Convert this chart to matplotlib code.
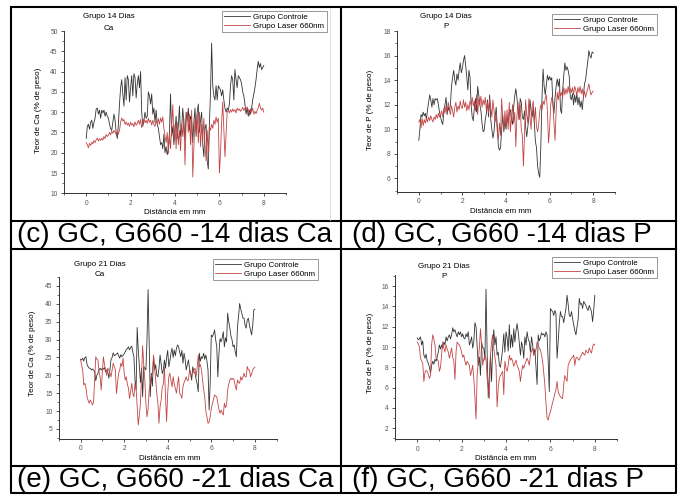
import numpy as np
import matplotlib.pyplot as plt
from matplotlib.ticker import MultipleLocator

plt.rcParams['font.family'] = ['Liberation Sans', 'DejaVu Sans']

W, H = 682, 495

# distancia (mm), mesma grade para todas as curvas
dist_mm = np.linspace(0, 8, 161)

# 14 dias - Ca
ca14_gc = [23.5, 26.5, 27.0, 25.8, 27.5, 28.0, 26.0, 27.5, 28.5, 30.8, 31.0, 29.5, 30.5, 28.5, 30.5, 29.8, 30.5, 29.0, 30.0, 29.0,
           28.5, 27.0, 26.0, 25.5, 27.5, 29.5, 28.0, 25.0, 23.5, 27.0, 32.0, 36.0, 38.0, 34.5, 31.5, 38.5, 33.0, 39.0, 38.0, 32.5,
           36.0, 39.0, 34.0, 39.5, 38.5, 33.5, 37.0, 39.0, 36.0, 40.0, 30.0, 26.5, 28.0, 30.0, 28.5, 29.0, 35.0, 34.0, 32.0, 34.5,
           29.5, 31.0, 27.5, 30.5, 27.0, 26.0, 24.0, 22.0, 22.5, 21.0, 24.5, 20.0, 21.5, 19.5, 21.0, 25.0, 34.5, 24.0, 26.5, 22.0,
           25.5, 29.0, 23.5, 26.5, 31.5, 24.0, 26.0, 31.0, 27.0, 23.0, 30.0, 28.0, 31.0, 25.5, 29.0, 28.0, 22.5, 27.5, 31.0, 24.0,
           30.0, 32.0, 25.0, 28.0, 30.0, 22.0, 19.0, 26.0, 27.0, 18.0, 16.0, 27.0, 35.0, 47.0, 36.5, 34.0, 33.0, 36.5, 33.0, 36.5,
           36.0, 35.5, 34.0, 35.5, 33.0, 31.0, 30.0, 31.0, 30.5, 32.0, 36.5, 39.0, 38.0, 33.0, 40.5, 38.0, 36.0, 39.0, 38.5, 38.0,
           37.0, 35.0, 34.0, 32.0, 29.5, 31.0, 29.0, 30.5, 29.5, 31.0, 33.0, 34.5, 36.0, 38.0, 40.5, 42.5, 41.0, 42.0, 40.5, 41.0,
           41.5]
ca14_gl = [22.5, 22.0, 21.2, 22.3, 21.8, 22.6, 22.2, 23.0, 22.5, 23.2, 23.6, 22.9, 23.4, 23.0, 23.6, 23.1, 24.0, 23.5, 24.5, 24.0,
           24.3, 25.0, 24.4, 25.3, 24.8, 25.5, 25.0, 24.5, 25.2, 24.6, 25.5, 27.5, 28.6, 27.8, 28.2, 27.0, 27.6, 26.8, 27.3, 26.5,
           27.5, 26.8, 27.2, 26.4, 27.6, 26.8, 27.2, 28.0, 27.0, 28.2, 26.2, 27.5, 28.3, 27.4, 28.0, 27.2, 28.5, 27.5, 28.0, 26.8,
           28.0, 27.0, 26.5, 27.8, 27.2, 28.4, 27.0, 28.6, 27.5, 28.8, 26.0, 24.0, 22.5, 25.0, 19.8, 24.5, 21.0, 26.5, 31.8, 23.5,
           27.0, 21.0, 27.5, 22.0, 25.5, 20.5, 27.0, 24.0, 28.5, 17.0, 27.5, 30.0, 25.0, 29.5, 22.0, 30.5, 14.0, 21.0, 28.5, 25.0,
           29.5, 22.5, 30.0, 21.5, 27.0, 23.0, 28.5, 22.0, 18.0, 25.5, 20.0, 26.5, 25.5, 27.0, 26.0, 28.0, 27.0, 28.8, 27.5, 28.5,
           15.0, 20.0, 27.5, 32.5, 26.0, 19.0, 24.5, 30.0, 30.5, 29.8, 30.6, 30.0, 30.8, 30.2, 30.6, 29.8, 31.0, 30.4, 30.8, 30.2,
           30.6, 31.2, 30.4, 31.0, 30.5, 31.3, 30.6, 29.2, 30.8, 30.0, 31.0, 29.5, 30.2, 29.6, 30.5, 31.0, 32.2, 31.0, 30.5, 31.0,
           30.0]

# 14 dias - P
p14_gc = [9.1, 10.0, 11.2, 11.0, 11.4, 11.1, 11.3, 10.8, 11.6, 12.2, 12.8, 12.4, 11.8, 12.5, 12.0, 12.5, 12.4, 12.5, 12.0, 11.4,
          11.0, 10.6, 10.4, 11.5, 12.0, 12.6, 11.2, 11.8, 11.5, 12.0, 13.5, 14.2, 14.8, 14.0, 13.6, 14.5, 14.0, 14.8, 15.4, 14.6,
          15.0, 15.6, 16.0, 15.2, 14.3, 13.2, 14.8, 14.2, 12.0, 11.0, 10.7, 11.8, 12.5, 11.4, 13.5, 12.8, 12.0, 11.5, 10.5, 9.8,
          9.9, 10.8, 11.3, 12.4, 11.0, 12.8, 10.8, 10.0, 9.3, 9.8, 11.0, 11.8, 10.2, 8.6, 8.3, 8.5, 10.0, 11.2, 9.8, 10.8,
          10.0, 11.0, 10.5, 11.4, 11.6, 10.8, 10.4, 11.8, 12.7, 13.3, 12.6, 11.6, 10.8, 12.5, 12.2, 11.0, 10.8, 11.5, 10.2, 9.4,
          10.2, 11.0, 12.4, 11.5, 11.0, 11.8, 10.5, 9.0, 8.5, 7.0, 6.4, 6.1, 8.8, 12.5, 14.9, 13.5, 12.8, 13.6, 14.4, 14.0,
          14.3, 14.0, 14.2, 12.1, 11.3, 12.6, 13.5, 14.1, 13.5, 14.1, 11.6, 11.3, 13.2, 14.4, 15.4, 14.8, 15.1, 14.8, 14.3, 12.6,
          12.4, 12.9, 12.0, 12.8, 12.2, 12.9, 12.0, 12.6, 11.8, 12.3, 11.6, 12.6, 13.7, 14.0, 14.8, 15.5, 16.4, 16.0, 15.8, 16.3,
          16.2]
p14_gl = [10.6, 10.8, 10.1, 10.9, 10.3, 10.8, 10.5, 10.9, 10.6, 11.0, 10.7, 11.1, 10.8, 10.6, 11.0, 10.8, 11.2, 10.9, 11.3, 11.0,
          11.2, 11.5, 11.0, 11.7, 11.3, 11.9, 11.4, 12.2, 11.6, 11.2, 11.9, 11.5, 11.0, 11.8, 12.2, 11.4, 11.9, 11.6, 12.3, 11.8,
          11.7, 12.4, 11.8, 12.2, 11.5, 12.0, 11.6, 12.3, 12.0, 12.6, 11.9, 12.3, 11.5, 12.8, 11.2, 12.5, 12.0, 12.7, 11.8, 12.4,
          12.0, 12.6, 11.5, 12.2, 11.3, 12.5, 11.8, 11.0, 12.4, 11.5, 10.6, 11.2, 9.8, 9.2, 10.5, 9.5, 12.5, 11.0, 10.0, 11.5,
          10.2, 11.6, 10.0, 12.2, 9.8, 11.0, 12.0, 10.5, 11.4, 8.6, 11.0, 12.2, 10.8, 12.0, 10.0, 9.5, 7.0, 9.8, 12.4, 11.2,
          10.5, 12.5, 11.0, 10.0, 11.8, 12.3, 10.5, 11.8, 10.2, 9.8, 10.4, 11.5, 12.0, 11.6, 12.3, 12.0, 12.5, 12.8, 11.5, 8.9,
          10.0, 12.0, 12.6, 12.2, 10.5, 9.1, 11.5, 13.0, 12.4, 13.2, 12.7, 13.0, 12.6, 13.4, 12.8, 13.3, 12.9, 13.5, 13.0, 13.3,
          13.0, 13.4, 12.8, 13.5, 13.2, 12.8, 13.4, 13.0, 13.5, 12.9, 13.3, 12.7, 13.1, 12.6, 13.0, 13.3, 13.7, 13.2, 12.8, 13.0,
          13.1]

# 21 dias - Ca
ca21_gc = [24.5, 24.3, 24.8, 24.0, 25.0, 25.2, 23.0, 22.4, 22.0, 22.0, 21.5, 21.8, 21.5, 21.0, 18.5, 20.0, 20.6, 21.5, 22.0, 21.5,
           22.0, 21.7, 22.2, 21.0, 21.5, 21.0, 19.2, 21.5, 24.4, 25.0, 26.3, 25.5, 25.7, 26.0, 26.3, 25.5, 24.8, 25.8, 25.2, 25.6,
           26.0, 26.6, 27.2, 27.5, 28.0, 27.1, 27.8, 28.2, 26.5, 25.2, 18.7, 15.9, 33.4, 27.1, 22.4, 18.0, 22.0, 14.0, 22.4, 22.0,
           21.5, 30.0, 44.0, 29.0, 14.0, 20.6, 17.0, 25.3, 21.5, 23.0, 20.0, 19.6, 22.0, 25.7, 23.0, 20.5, 21.5, 24.3, 22.0, 25.0,
           27.0, 22.4, 24.0, 26.2, 27.6, 25.0, 27.1, 25.5, 27.5, 28.5, 28.0, 26.5, 25.2, 27.0, 23.4, 26.2, 24.5, 21.5, 23.0, 24.3,
           22.0, 20.5, 18.7, 22.4, 21.0, 20.6, 19.0, 17.7, 15.4, 26.2, 24.0, 25.2, 24.8, 26.2, 24.5, 25.7, 24.0, 21.5, 10.3, 18.0,
           31.3, 30.8, 31.5, 32.7, 30.0, 28.0, 19.6, 26.0, 30.3, 29.4, 30.5, 32.2, 28.0, 30.5, 29.4, 37.4, 35.0, 33.2, 31.0, 30.0,
           28.0, 28.5, 26.5, 25.2, 33.6, 36.5, 40.1, 38.5, 37.4, 36.0, 36.0, 34.0, 33.2, 35.5, 36.0, 34.0, 32.7, 31.3, 34.0, 38.3,
           38.5]
ca21_gl = [24.5, 23.0, 21.5, 17.3, 17.8, 16.5, 14.0, 13.0, 12.2, 13.1, 12.5, 11.7, 12.5, 19.0, 25.2, 24.5, 24.3, 21.0, 19.6, 15.9,
           20.5, 25.2, 23.0, 21.5, 20.0, 22.0, 21.5, 20.5, 19.6, 21.5, 23.4, 22.5, 21.5, 14.9, 18.0, 20.6, 21.5, 23.4, 22.5, 24.8,
           21.0, 18.7, 19.6, 17.5, 16.4, 13.5, 15.5, 17.8, 15.0, 14.0, 17.8, 16.4, 11.0, 6.1, 9.0, 12.2, 19.6, 28.3, 23.0, 18.7,
           12.2, 8.4, 10.5, 15.9, 17.5, 19.6, 20.6, 25.7, 22.0, 18.7, 15.0, 12.2, 6.6, 11.3, 13.1, 16.8, 17.5, 22.4, 14.0, 7.1,
           15.0, 19.6, 20.6, 18.5, 16.8, 19.6, 17.5, 16.4, 15.0, 17.5, 19.6, 15.0, 14.5, 13.6, 16.8, 18.0, 18.7, 19.6, 18.5, 18.7,
           21.5, 20.5, 20.1, 20.6, 21.5, 22.0, 19.6, 22.0, 25.7, 22.4, 23.0, 21.5, 18.7, 16.0, 14.0, 10.0, 8.4, 6.6, 7.0, 8.4,
           10.8, 12.0, 13.1, 14.5, 14.2, 14.0, 12.2, 10.5, 9.4, 10.3, 9.5, 8.9, 12.2, 11.0, 11.7, 15.9, 17.5, 18.7, 19.2, 18.8,
           19.2, 18.7, 17.0, 15.9, 18.7, 18.0, 17.8, 19.6, 18.7, 19.5, 20.6, 19.6, 19.6, 22.5, 21.5, 21.5, 19.6, 20.5, 21.5, 22.0,
           22.3]

# 21 dias - P
p21_gc = [10.9, 10.7, 10.8, 11.0, 10.2, 10.6, 9.2, 8.9, 9.3, 8.6, 8.4, 8.0, 7.4, 8.2, 8.6, 8.3, 8.8, 8.6, 9.0, 9.5,
          10.2, 9.8, 10.2, 9.9, 10.5, 10.2, 11.0, 10.6, 11.0, 11.2, 10.8, 11.2, 11.9, 11.5, 11.7, 11.3, 11.0, 11.5, 11.2, 11.5,
          11.0, 11.3, 10.9, 10.8, 11.3, 11.0, 11.5, 10.2, 10.5, 11.0, 9.9, 10.5, 12.4, 12.0, 10.0, 8.2, 9.0, 7.2, 10.5, 9.9,
          9.9, 8.7, 15.7, 9.5, 5.0, 7.2, 9.2, 6.6, 10.0, 11.7, 10.2, 11.0, 9.2, 9.5, 8.2, 8.0, 8.9, 9.9, 11.3, 9.5,
          11.5, 10.9, 9.6, 12.2, 9.9, 11.2, 10.0, 11.8, 10.5, 11.6, 12.3, 11.5, 10.4, 9.2, 10.5, 10.0, 8.9, 11.0, 10.2, 11.5,
          10.8, 10.5, 9.5, 11.0, 10.2, 9.2, 9.8, 8.0, 6.3, 11.2, 10.6, 10.9, 11.4, 11.2, 11.3, 11.0, 11.5, 11.2, 8.6, 5.6,
          13.8, 13.6, 13.5, 13.1, 13.6, 13.3, 8.9, 10.5, 12.3, 13.5, 13.0, 13.0, 12.4, 13.1, 13.8, 15.1, 14.2, 13.1, 13.0, 13.5,
          12.8, 12.2, 11.6, 11.2, 12.0, 12.7, 14.8, 14.2, 14.3, 13.8, 14.5, 14.3, 14.1, 13.8, 13.6, 14.1, 13.8, 13.5, 12.5, 13.6,
          15.1]
p21_gl = [10.5, 10.3, 10.0, 8.9, 8.6, 8.4, 6.6, 7.5, 7.7, 7.6, 7.3, 6.9, 7.2, 10.2, 11.2, 10.8, 10.2, 8.9, 8.8, 8.6,
          7.6, 8.0, 9.2, 10.5, 9.9, 9.5, 10.2, 9.8, 9.5, 8.9, 9.4, 9.9, 9.0, 8.6, 6.8, 9.5, 10.5, 10.3, 10.2, 9.9,
          9.5, 9.0, 9.2, 8.6, 8.2, 8.6, 8.4, 8.2, 7.2, 7.6, 8.2, 6.9, 5.0, 2.9, 7.2, 8.5, 9.9, 11.8, 10.2, 8.2,
          8.8, 9.2, 8.9, 6.9, 6.0, 4.95, 9.2, 10.5, 11.2, 9.9, 9.0, 8.2, 4.1, 6.0, 6.9, 7.2, 7.4, 7.6, 5.3, 8.6,
          7.9, 7.6, 8.2, 9.2, 8.7, 8.9, 8.6, 8.1, 8.4, 8.7, 8.2, 7.9, 7.6, 6.6, 7.5, 8.2, 7.9, 8.3, 8.6, 8.9,
          8.6, 8.2, 9.2, 9.6, 9.9, 9.2, 9.5, 9.7, 10.5, 10.2, 9.9, 9.7, 9.2, 8.6, 7.5, 6.3, 4.5, 3.0, 2.8, 3.3,
          3.6, 4.1, 4.5, 4.95, 5.4, 5.8, 6.6, 5.6, 5.3, 5.1, 5.0, 4.9, 6.3, 7.2, 6.9, 6.6, 8.2, 8.5, 8.7, 8.9,
          9.0, 9.2, 8.2, 8.9, 9.0, 8.8, 8.7, 9.0, 9.2, 9.5, 9.3, 9.2, 9.7, 9.5, 9.4, 9.9, 9.6, 9.4, 10.0, 10.3,
          10.2]

labels = ["Grupo Controle", "Grupo Laser 660nm"]
captions = ["(c) GC, G660 -14 dias Ca", "(d) GC, G660 -14 dias P",
            "(e) GC, G660 -21 dias Ca", "(f) GC, G660 -21 dias P"]

c_ctrl = '#333333'
c_laser = '#c44444'

fig = plt.figure(figsize=(W / 100, H / 100), dpi=100)

# moldura da tabela (coordenadas em pixels)
frame = fig.add_axes([0, 0, 1, 1])
frame.set_xlim(0, W)
frame.set_ylim(H, 0)
frame.axis('off')
frame.plot([11, 676, 676, 11, 11], [7, 7, 493, 493, 7], color='black', lw=1.5)
for yy in [221, 249, 466]:
    frame.plot([11, 676], [yy, yy], color='black', lw=1.5)
frame.plot([341, 341], [7, 493], color='black', lw=1.5)
frame.plot([330, 330], [8, 220], color='#dddddd', lw=0.6)


def px_axes(x0, y0, x1, y1):
    return fig.add_axes([x0 / W, 1 - y1 / H, (x1 - x0) / W, (y1 - y0) / H])


panels = [
    dict(box=(64, 31, 286, 193.3), ylim=(10, 50), ystep=5, ctrl=ca14_gc, laser=ca14_gl,
         title=("Grupo 14 Dias", "Ca"), tpos=(109, 17, 28), leg=(222, 11),
         ylabel="Teor de Ca (% de peso)", ylpos=(38, 110), xlpos=(175, 212), cap=(17, 235)),
    dict(box=(397, 31, 615, 192), ylim=(4.9, 18), ystep=2, ctrl=p14_gc, laser=p14_gl,
         title=("Grupo 14 Dias", "P"), tpos=(446, 16, 27), leg=(552, 14),
         ylabel="Teor de P (% de peso)", ylpos=(370, 110), xlpos=(501, 211), cap=(352, 235)),
    dict(box=(58.7, 276.7, 276.7, 439), ylim=(2.2, 47.6), ystep=5, ctrl=ca21_gc, laser=ca21_gl,
         title=("Grupo 21 Dias", "Ca"), tpos=(100, 264, 274), leg=(213, 259),
         ylabel="Teor de Ca (% de peso)", ylpos=(32, 353), xlpos=(170, 458), cap=(17, 480)),
    dict(box=(395, 275, 617, 439.3), ylim=(0.9, 17.1), ystep=2, ctrl=p21_gc, laser=p21_gl,
         title=("Grupo 21 Dias", "P"), tpos=(444, 267, 277), leg=(552, 257),
         ylabel="Teor de P (% de peso)", ylpos=(370, 353), xlpos=(506, 458), cap=(352, 480)),
]

for i, p in enumerate(panels):
    ax = px_axes(*p['box'])
    ax.patch.set_alpha(0)
    ax.plot(dist_mm, p['ctrl'], color=c_ctrl, lw=0.6, label=labels[0])
    ax.plot(dist_mm, p['laser'], color=c_laser, lw=0.6, label=labels[1])
    ax.set_xlim(-1, 9)
    ax.set_ylim(*p['ylim'])
    ax.xaxis.set_major_locator(MultipleLocator(2))
    ax.xaxis.set_minor_locator(MultipleLocator(1))
    ax.yaxis.set_major_locator(MultipleLocator(p['ystep']))
    ax.yaxis.set_minor_locator(MultipleLocator(p['ystep'] / 2))
    for s in ['top', 'right']:
        ax.spines[s].set_visible(False)
    for s in ['left', 'bottom']:
        ax.spines[s].set_color('#333333')
        ax.spines[s].set_linewidth(0.7)
    ax.tick_params(which='major', direction='out', length=2.5, width=0.6,
                   labelsize=4.8, labelcolor='#555555', color='#333333', pad=2)
    ax.tick_params(which='minor', direction='out', length=1.5, width=0.5, color='#333333')
    ax.set_xticks([0, 2, 4, 6, 8])

    tx, ty1, ty2 = p['tpos']
    fig.text(tx / W, 1 - ty1 / H, p['title'][0], ha='center', va='center', fontsize=5.8)
    fig.text(tx / W, 1 - ty2 / H, p['title'][1], ha='center', va='center', fontsize=5.8)

    fig.text(p['ylpos'][0] / W, 1 - p['ylpos'][1] / H, p['ylabel'], rotation=90,
             ha='center', va='center', fontsize=5.8)
    fig.text(p['xlpos'][0] / W, 1 - p['xlpos'][1] / H, "Distância em mm",
             ha='center', va='center', fontsize=5.8)

    lx, ly = p['leg']
    leg = ax.legend(loc='upper left', bbox_to_anchor=(lx / W, 1 - ly / H),
                    bbox_transform=fig.transFigure,
                    fontsize=5.8, frameon=True, fancybox=False, borderaxespad=0,
                    handlelength=3.2, handletextpad=0.4, borderpad=0.3, labelspacing=0.1)
    leg.get_frame().set_edgecolor('#888888')
    leg.get_frame().set_linewidth(0.6)
    leg.get_frame().set_alpha(1)

    cx, cy = p['cap']
    fig.text(cx / W, 1 - cy / H, captions[i], ha='left', va='center', fontsize=20)

fig.savefig('out.png', dpi=100)
